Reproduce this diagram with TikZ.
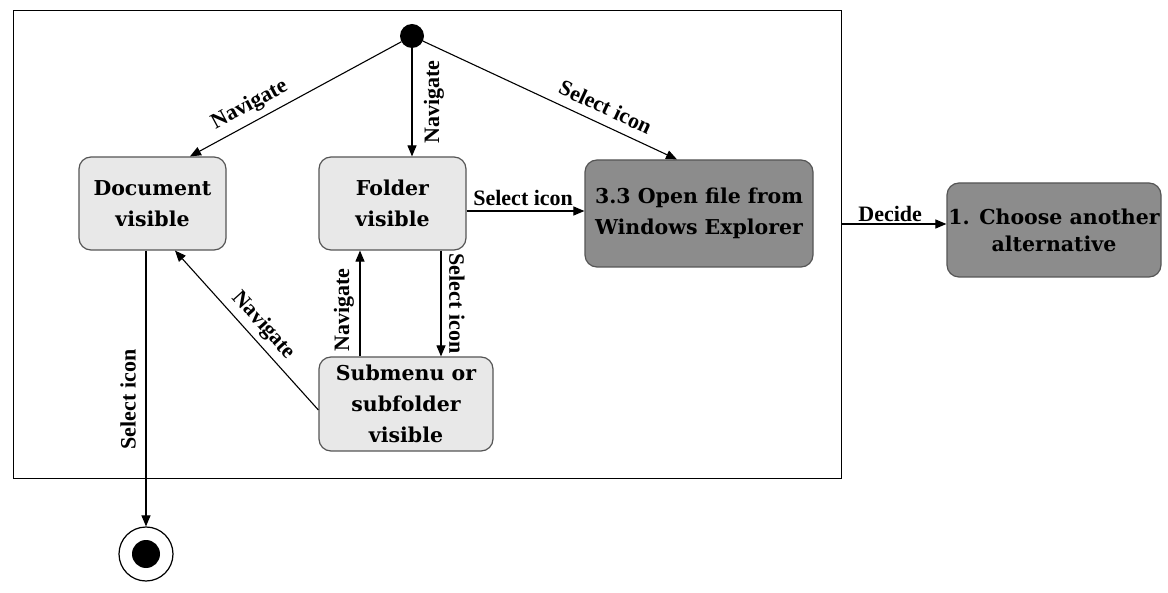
\documentclass[tikz,border=0pt]{standalone}
\usepackage{fontspec}
\setmainfont{Liberation Serif}
\newfontfamily\nodefont{DejaVu Serif}
\usetikzlibrary{arrows.meta}
\definecolor{lightfill}{HTML}{E8E8E8}
\definecolor{darkfill}{HTML}{8C8C8C}
\definecolor{boxline}{HTML}{555555}
\tikzset{
  state/.style={draw=boxline, line width=1.2pt, rounded corners=12pt, fill=lightfill, align=center,
    font=\nodefont\bfseries\fontsize{20.5}{31}\selectfont, inner sep=0pt},
  darkstate/.style={state, fill=darkfill},
  lbl/.style={font=\bfseries\fontsize{22}{24}\selectfont, inner sep=2pt},
  flow/.style={draw, line width=1.1pt, -{Triangle[length=11pt,width=9pt]}}
}
\begin{document}
\begin{tikzpicture}[x=1pt,y=1pt]
\fill[white] (0,0) rectangle (1168,-593);
\useasboundingbox (0,0) rectangle (1168,-593);

\node[draw, line width=1.3pt, minimum width=828pt, minimum height=468pt, inner sep=0pt, anchor=north west] (frame) at (13,-10) {};

\node[circle, fill=black, minimum size=24pt, inner sep=0pt] (init) at (412,-36) {};
\node[state, minimum width=147pt, minimum height=93pt] (doc) at (152.5,-203.5) {Document\\visible};
\node[state, minimum width=147pt, minimum height=93pt] (folder) at (392.5,-203.5) {Folder\\visible};
\node[darkstate, minimum width=228pt, minimum height=107pt] (open) at (699,-213.5) {3.3 Open file from\\Windows Explorer};
\node[darkstate, minimum width=214pt, minimum height=94pt, font=\nodefont\bfseries\fontsize{20.5}{27}\selectfont] (choose) at (1054,-230) {1. Choose another\\alternative};
\node[state, minimum width=174pt, minimum height=94pt] (sub) at (406,-404) {Submenu or\\subfolder\\visible};
\node[circle, draw, line width=1.2pt, minimum size=54pt, inner sep=0pt] (final) at (146,-554) {};
\fill (final.center) circle (14pt);

\draw[flow] (init) -- ([xshift=37.5pt]doc.north)
  node[lbl, sloped, above=4pt, pos=0.68] {Navigate};
\draw[flow] (init) -- (init |- folder.north)
  node[lbl, pos=0.5, xshift=22pt, rotate=90] {Navigate};
\draw[flow] (init) -- ([xshift=-22pt]open.north)
  node[lbl, sloped, above=7pt, pos=0.69] {Select icon};
\draw[flow] ([yshift=-7.5pt]folder.east) -- ([yshift=2.5pt]open.west)
  node[lbl, above=3pt, pos=0.48] {Select icon};
\coordinate (dc) at ([yshift=6pt]choose.west);
\draw[flow] (frame.east |- dc) -- (dc)
  node[lbl, above=0pt, pos=0.46] {Decide};
\draw[flow] ([xshift=48.5pt]folder.south) -- ([xshift=35pt]sub.north)
  node[lbl, pos=0.5, xshift=16pt, rotate=-90] {Select icon};
\draw[flow] ([xshift=-46pt]sub.north) -- ([xshift=-32.5pt]folder.south)
  node[lbl, pos=0.44, xshift=-16pt, rotate=90] {Navigate};
\draw[flow] ([yshift=-6pt]sub.west) -- ([xshift=22.5pt]doc.south)
  node[lbl, sloped, above=3pt, pos=0.465] {Navigate};
\draw[flow] (doc.south -| final) -- (final.north)
  node[lbl, pos=0.54, xshift=-18pt, rotate=90] {Select icon};
\end{tikzpicture}
\end{document}
